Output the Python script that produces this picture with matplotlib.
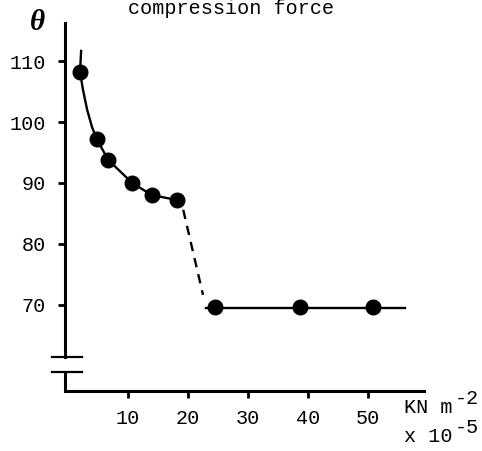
import matplotlib
matplotlib.use("Agg")
import matplotlib.pyplot as plt

# measured points (compression force x 10^-5 KN m^-2, contact angle theta)
force = [2.0, 4.8, 6.7, 10.7, 14.0, 18.2, 24.5, 38.7, 50.8]
theta = [108.3, 97.2, 93.8, 90.0, 88.0, 87.2, 69.6, 69.6, 69.6]

# hand-drawn curve
curve_x = [2.2, 2.0, 2.5, 3.2, 4.0, 4.8, 6.7, 10.7, 14.0, 18.2]
curve_y = [111.9, 108.3, 105.3, 102.0, 99.2, 97.2, 93.8, 90.0, 88.0, 87.2]
dash_x = [19.2, 22.5]
dash_y = [85.6, 71.6]
flat_x = [23.0, 56.2]
flat_y = [69.4, 69.4]

xticks = [10, 20, 30, 40, 50]
yticks = [70, 80, 90, 100, 110]

mono = "Liberation Mono"
W, H = 482, 451
fig = plt.figure(figsize=(W / 100, H / 100), dpi=100)
ax = fig.add_axes([65 / W, (H - 391) / H, (424 - 65) / W, (391 - 23) / H])

xmin, xmax = -0.5, 59.33
ymin, ymax = 55.8, 116.3
ax.set_xlim(xmin, xmax)
ax.set_ylim(ymin, ymax)

ax.plot(curve_x, curve_y, color="black", lw=1.7, solid_capstyle="butt")
ax.plot(dash_x, dash_y, color="black", lw=1.7, dashes=(4, 3))
ax.plot(flat_x, flat_y, color="black", lw=1.7)
ax.plot(force, theta, "o", color="black", ms=10.5)

for s in ["top", "right"]:
    ax.spines[s].set_visible(False)
ax.spines["left"].set_linewidth(2.2)
ax.spines["bottom"].set_linewidth(2.2)

# broken y axis
brk_hi, brk_lo = 61.4, 58.9
ax.spines["left"].set_bounds(brk_hi, ymax)
ax.plot([xmin, xmin], [ymin, brk_lo], color="black", lw=2.2, clip_on=False,
        solid_capstyle="butt")
for yb in (brk_hi, brk_lo):
    ax.plot([-2.67, 2.4], [yb, yb], color="black", lw=1.6, clip_on=False)

ax.set_xticks(xticks)
ax.set_yticks(yticks)
ax.tick_params(axis="both", direction="out", length=5, width=2, labelsize=14.5)
ax.tick_params(axis="y", pad=9)
ax.tick_params(axis="x", pad=8)
for lab in ax.get_xticklabels() + ax.get_yticklabels():
    lab.set_fontfamily(mono)

fig.text(231 / W, 1 - 14 / H, "compression force", family=mono, fontsize=14.5,
         ha="center", va="baseline")
fig.text(37 / W, 1 - 23 / H, "\u03b8", family="Liberation Serif", style="italic",
         weight="bold", fontsize=21, ha="center", va="center")

fig.text(404 / W, 1 - 413 / H, "KN m", family=mono, fontsize=14.5, va="baseline")
fig.text(455 / W, 1 - 404 / H, "-2", family=mono, fontsize=14.5, va="baseline")
fig.text(404 / W, 1 - 442 / H, "x 10", family=mono, fontsize=14.5, va="baseline")
fig.text(455 / W, 1 - 433 / H, "-5", family=mono, fontsize=14.5, va="baseline")

fig.savefig("out.png", dpi=100)
